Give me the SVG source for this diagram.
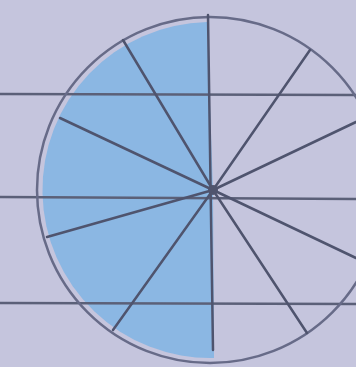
<svg xmlns="http://www.w3.org/2000/svg" width="356" height="367" viewBox="0 0 356 367">
<style>
.rule{stroke:#5b6078;stroke-width:2.5;fill:none}
.spoke{stroke:#4f546e;stroke-width:2.5;fill:none;stroke-linecap:round}
.rim{stroke:#676b88;stroke-width:2.5;fill:none}
</style>
<rect width="356" height="367" fill="#c5c5dd"/>
<path d="M207 22 A168 168 0 1 0 214 358 L213 190 Z" fill="#84b5e3" opacity="0.9"/>
<g id="rules">
<line class="rule" x1="0" y1="94" x2="356" y2="95"/>
<line class="rule" x1="0" y1="197" x2="356" y2="199"/>
<line class="rule" x1="0" y1="303" x2="356" y2="304"/>
</g>
<circle class="rim" cx="210" cy="190" r="173"/>
<g id="spokes">
<line class="spoke" x1="208" y1="15" x2="213" y2="350"/>
<line class="spoke" x1="123" y1="40" x2="213" y2="190"/>
<line class="spoke" x1="60" y1="118" x2="213" y2="190"/>
<line class="spoke" x1="47" y1="237" x2="213" y2="190"/>
<line class="spoke" x1="113" y1="330" x2="213" y2="190"/>
<line class="spoke" x1="310" y1="50" x2="213" y2="190"/>
<line class="spoke" x1="356" y1="122" x2="213" y2="190"/>
<line class="spoke" x1="356" y1="258" x2="213" y2="190"/>
<line class="spoke" x1="307" y1="333" x2="213" y2="190"/>
</g>
<circle cx="213" cy="190" r="5" fill="#4f546e"/>
</svg>
